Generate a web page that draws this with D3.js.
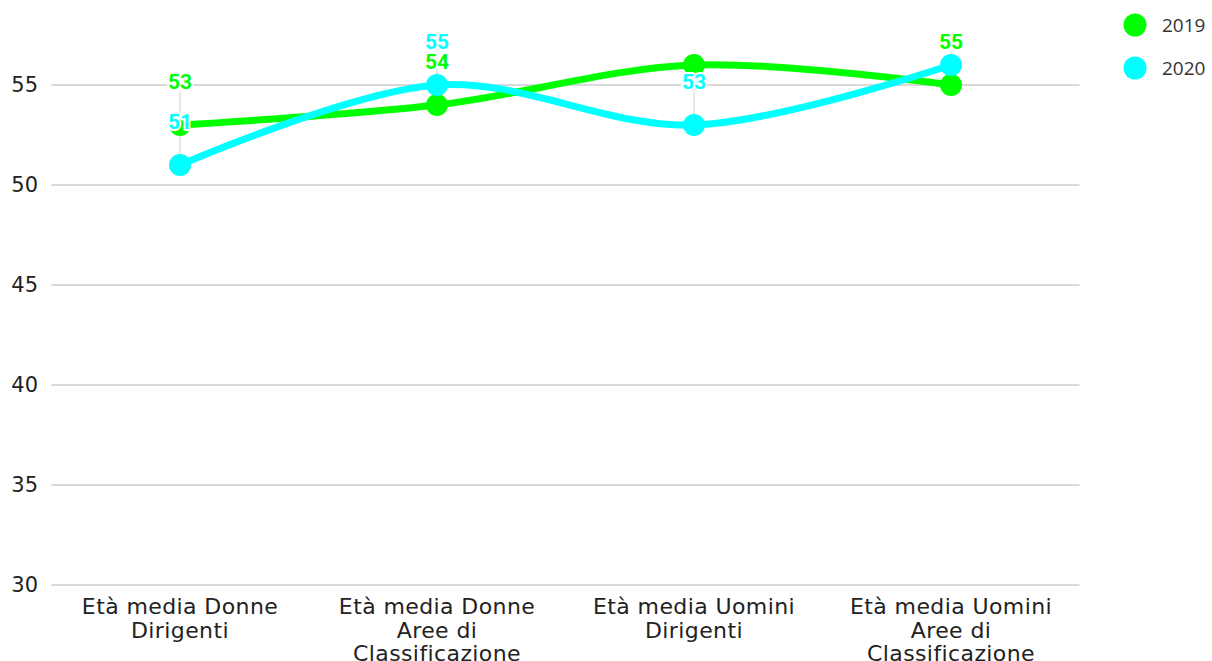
<!DOCTYPE html>
<html><head><meta charset="utf-8">
<script src="https://cdn.jsdelivr.net/npm/d3@7"></script>
<style>body{margin:0;background:#fff}svg{display:block}</style>
</head><body>
<svg id="c" width="1212" height="661"></svg>
<script>
const categories = [["Età media Donne","Dirigenti"],["Età media Donne","Aree di","Classificazione"],["Età media Uomini","Dirigenti"],["Età media Uomini","Aree di","Classificazione"]];
const seriesNames = ["2019","2020"];
const values2019 = [53,54,56,55];
const values2020 = [51,55,53,56];
const showLabels2019 = [true,true,false,true];
const showLabels2020 = [true,true,true,false];
const yTicks = [30,35,40,45,50,55];
const colors = ["#00ff00","#00ffff"];

const svg = d3.select("#c");
const x = d3.scaleBand().domain(d3.range(categories.length)).range([51.5,1079.5]);
const y = d3.scaleLinear().domain([30,57.5]).range([585,35]);
const cx = i => x(i)+x.bandwidth()/2;

// grid
svg.append("g").selectAll("line").data(yTicks).join("line")
  .attr("x1",51.5).attr("x2",1079.5).attr("y1",d=>y(d)).attr("y2",d=>y(d))
  .attr("stroke","#cccccc").attr("stroke-width",1.5);

// y labels
svg.append("g").selectAll("text").data(yTicks).join("text")
  .attr("x",38).attr("y",d=>y(d)).attr("dy","0.35em").attr("text-anchor","end")
  .attr("font-family","DejaVu Sans, Verdana, sans-serif").attr("font-size",21).attr("fill","#222")
  .text(d=>d);

// x labels
const xl = svg.append("g").selectAll("text").data(categories).join("text")
  .attr("x",(d,i)=>cx(i)).attr("y",614).attr("text-anchor","middle")
  .attr("font-family","DejaVu Sans, Verdana, sans-serif").attr("font-size",22).attr("letter-spacing",0.4).attr("fill","#222");
xl.each(function(d,i){
  d3.select(this).selectAll("tspan").data(d).join("tspan")
    .attr("x",cx(i)).attr("dy",(t,j)=>j===0?0:23.5).text(t=>t);
});

const series = [
  {name:"2019", values:values2019, show:showLabels2019, color:colors[0]},
  {name:"2020", values:values2020, show:showLabels2020, color:colors[1]}
];
series.forEach(s=>{
  s.pts = s.values.map((v,i)=>({v, i, show:s.show[i]}));
  s.labeled = s.pts.filter(p=>p.show);
});
const line = d3.line().x(p=>cx(p.i)).y(p=>y(p.v)).curve(d3.curveCatmullRom.alpha(0.5));

// leader lines
series.forEach(s=>{
  svg.append("g").selectAll("line").data(s.labeled).join("line")
    .attr("x1",p=>cx(p.i)).attr("x2",p=>cx(p.i))
    .attr("y1",p=>y(p.v)-33).attr("y2",p=>y(p.v))
    .attr("stroke","#d8d8d8").attr("stroke-width",1.2);
});

series.forEach(s=>{
  const g = svg.append("g");
  g.append("path").datum(s.pts).attr("d",line).attr("fill","none")
    .attr("stroke",s.color).attr("stroke-width",7).attr("stroke-linecap","round");
  g.selectAll("circle").data(s.pts).join("circle")
    .attr("cx",p=>cx(p.i)).attr("cy",p=>y(p.v)).attr("r",11).attr("fill",s.color);
});

// labels
series.forEach(s=>{
  svg.append("g").selectAll("text").data(s.labeled).join("text")
    .attr("x",p=>cx(p.i)).attr("y",p=>y(p.v)-43).attr("dy","0.35em")
    .attr("text-anchor","middle").attr("font-family","Roboto, Liberation Sans, Arial, sans-serif")
    .attr("font-weight","bold").attr("font-size",21).attr("fill",s.color)
    .attr("stroke","#fff").attr("stroke-width",4).attr("paint-order","stroke").attr("stroke-linejoin","round")
    .text(p=>p.v);
});

// legend
const lg = svg.append("g").selectAll("g").data(series).join("g")
  .attr("transform",(d,i)=>`translate(1135,${25+i*43})`);
lg.append("circle").attr("r",11.5).attr("fill",d=>d.color);
lg.append("text").attr("x",27).attr("dy","0.35em").attr("font-family","Open Sans, Segoe UI, sans-serif")
  .attr("font-size",19).attr("fill","#333").text(d=>d.name);
</script>
</body></html>
